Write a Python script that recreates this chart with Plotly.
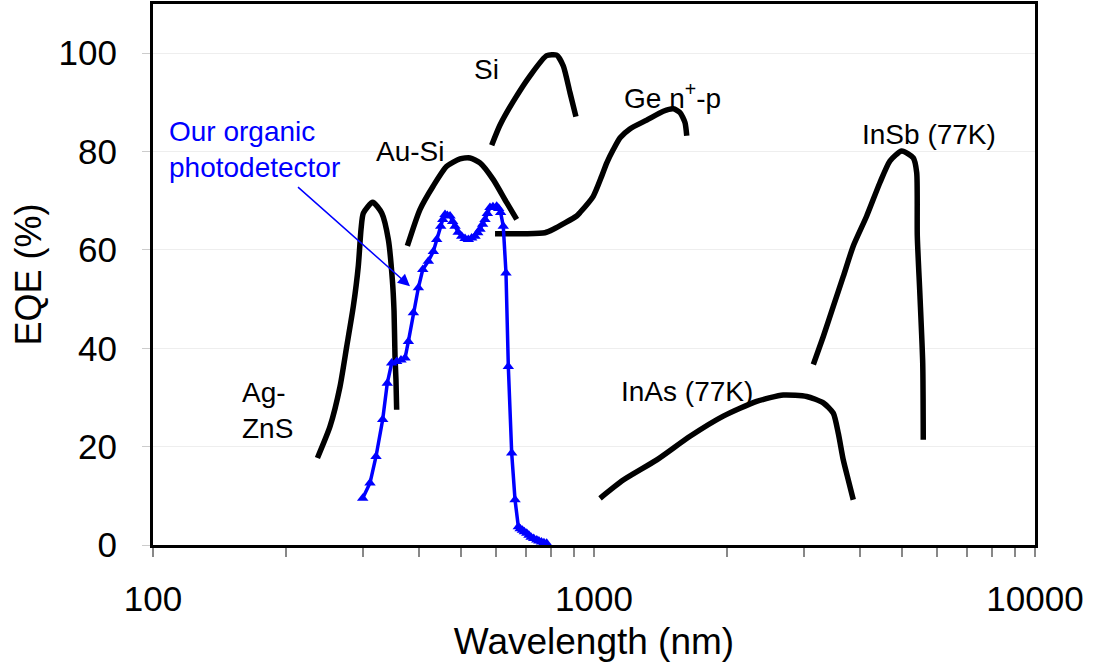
import math
import plotly.graph_objects as go

# ---- Data (wavelength nm, EQE %) ----
agzns_x = [236, 252, 265.5, 275, 284.6, 292.1, 296.3, 299.9, 314.9, 330.1, 341.7, 348.9, 352, 353.8, 355.6, 356.9]
agzns_y = [17.7, 24.1, 32.2, 40.4, 48.5, 56.7, 64.2, 67.5, 69.7, 67.5, 62.1, 54.0, 47.6, 38.4, 33.6, 27.5]

ausi_x = [377.4, 403, 432, 463.4, 496.7, 523.5, 551.4, 591, 634, 667.9]
ausi_y = [60.8, 68.2, 73.0, 77.0, 78.5, 78.7, 77.7, 74.3, 69.6, 66.2]

si_x = [586.1, 612.2, 656.2, 716, 781, 823, 852, 882, 910]
si_y = [81.3, 85.4, 90.2, 95.4, 99.5, 99.6, 97.4, 92.0, 87.1]

ge_x = [596.5, 700, 774, 808.6, 913.5, 929.5, 996, 1041, 1069, 1106, 1146, 1206, 1317, 1436, 1513, 1567, 1608, 1623]
ge_y = [63.3, 63.3, 63.5, 64.2, 66.9, 67.6, 70.9, 75.0, 77.7, 80.4, 82.8, 84.6, 86.4, 88.2, 88.7, 87.9, 85.9, 83.2]

insb_x = [3143, 3311, 3488, 3675, 3872, 4153, 4451, 4691, 4986, 5297, 5392, 5409, 5485, 5564, 5580]
insb_y = [36.7, 42.4, 48.5, 54.6, 60.8, 66.9, 73.7, 78.1, 80.1, 78.7, 75.7, 62.8, 50.6, 37.0, 21.4]

inas_x = [1032, 1165, 1388, 1651, 1964, 2338, 2687, 3036, 3311, 3488, 3581, 3675, 3773, 3872]
inas_y = [9.5, 13.2, 17.3, 22.1, 26.2, 29.2, 30.5, 30.2, 28.9, 26.8, 22.7, 17.3, 13.2, 9.2]

org_x = [298.9, 310.5, 320.4, 331.8, 339.8, 347.7, 356.9, 365, 372.9, 379.4, 389.4, 399.7, 409, 421.1,
         432.2, 439.9, 449.2, 454, 459.4, 465, 471.6, 478, 484.1, 492, 501.2, 510, 518.8, 528, 537.3,
         545, 551.4, 559, 566, 573, 580.9, 590, 601.6, 608,
         614.2, 622.7, 631.6, 639.3, 650.7, 662.1, 673.6, 680, 688, 695, 703.9, 712, 720, 730, 741.8,
         750, 760, 770, 781]
org_y = [9.5, 12.6, 18.0, 25.5, 32.9, 37.0, 37.3, 37.6, 38.0, 41.4, 47.2, 52.3, 56.0, 57.7,
         59.7, 62.1, 64.8, 66.2, 67.2, 67.0, 66.9, 65.8, 64.8, 63.6, 62.8, 62.3, 62.1, 62.4, 62.8,
         63.5, 64.2, 65.2, 66.2, 67.4, 68.6, 68.8, 68.9, 68.4,
         67.6, 64.8, 55.3, 36.3, 18.7, 9.2, 3.7, 3.3, 3.0, 2.7, 2.4, 2.0, 1.6, 1.3, 1.0,
         0.8, 0.6, 0.45, 0.35]

x_tickvals = [100, 1000, 10000]
x_ticktext = ["100", "1000", "10000"]
x_minorvals = [200, 300, 400, 500, 600, 700, 800, 900,
               2000, 3000, 4000, 5000, 6000, 7000, 8000, 9000]
y_tickvals = [0, 20, 40, 60, 80, 100]

FONT = "Liberation Sans, Arial, sans-serif"
BLACK_W = 5.5

fig = go.Figure()
for xs, ys in [(agzns_x, agzns_y), (ausi_x, ausi_y), (si_x, si_y), (ge_x, ge_y),
               (insb_x, insb_y), (inas_x, inas_y)]:
    fig.add_trace(go.Scatter(x=xs, y=ys, mode="lines",
                             line=dict(color="black", width=BLACK_W, shape="spline", smoothing=0.6),
                             showlegend=False))

fig.add_trace(go.Scatter(x=org_x, y=org_y, mode="lines+markers",
                         line=dict(color="#0000FF", width=3.5),
                         marker=dict(symbol="triangle-up", size=10, color="#0000FF"),
                         showlegend=False))

L = math.log10
ann_font = dict(family=FONT, size=28, color="black")
labels = [
    ("Si", 571, 96.7, "center"),
    ("Au-Si", 382.6, 80.0, "center"),
    ("Ge n<sup>+</sup>-p", 1503, 91.2, "center"),
    ("InSb (77K)", 5749, 83.5, "center"),
    ("InAs (77K)", 1625, 31.2, "center"),
]
for text, x, y, anc in labels:
    fig.add_annotation(x=L(x), y=y, xref="x", yref="y", text=text, showarrow=False,
                       font=ann_font, xanchor=anc, yanchor="middle")

fig.add_annotation(x=L(157.5), y=27.3, xref="x", yref="y", text="Ag-<br>ZnS",
                   showarrow=False, font=ann_font, xanchor="left", yanchor="middle", align="left")
fig.add_annotation(x=L(107.6), y=80.4, xref="x", yref="y", text="Our organic<br>photodetector",
                   showarrow=False, font=dict(family=FONT, size=28, color="#0000FF"),
                   xanchor="left", yanchor="middle", align="left")
# arrow
fig.add_annotation(x=L(382.6), y=52.6, ax=L(209.9), ay=73.3, xref="x", yref="y",
                   axref="x", ayref="y", text=" ", showarrow=True, arrowhead=2,
                   arrowsize=1.6, arrowwidth=1.5, arrowcolor="#0000FF", standoff=0)

fig.update_xaxes(type="log", range=[2, 4], tickvals=x_tickvals, ticktext=x_ticktext,
                 ticks="outside", ticklen=9, tickwidth=2, tickcolor="#888888",
                 minor=dict(tickvals=x_minorvals, ticks="outside", ticklen=9, tickwidth=2,
                            tickcolor="#888888", showgrid=False),
                 showline=True, linecolor="black", linewidth=3, mirror=True,
                 showgrid=False, zeroline=False, automargin=False,
                 ticklabelstandoff=12,
                 tickfont=dict(family=FONT, size=35, color="black"),
                 title=dict(text="Wavelength (nm)", font=dict(family=FONT, size=37, color="black"),
                            standoff=12))
fig.update_yaxes(range=[0, 110], tickvals=y_tickvals,
                 ticks="outside", ticklen=8, tickwidth=1, tickcolor="#cccccc",
                 showline=True, linecolor="black", linewidth=3, mirror=True,
                 showgrid=True, gridcolor="#eeeeee", gridwidth=1, zeroline=False,
                 automargin=False, ticklabelstandoff=18,
                 tickfont=dict(family=FONT, size=35, color="black"),
                 title=dict(text="EQE (%)", font=dict(family=FONT, size=36, color="black"),
                            standoff=6))

fig.update_layout(width=1094, height=668, plot_bgcolor="white", paper_bgcolor="white",
                  margin=dict(l=153, r=59, t=4, b=123), showlegend=False)

fig.write_html("out.html", config={"displayModeBar": False},
               post_script="document.body.style.margin='0px';")
